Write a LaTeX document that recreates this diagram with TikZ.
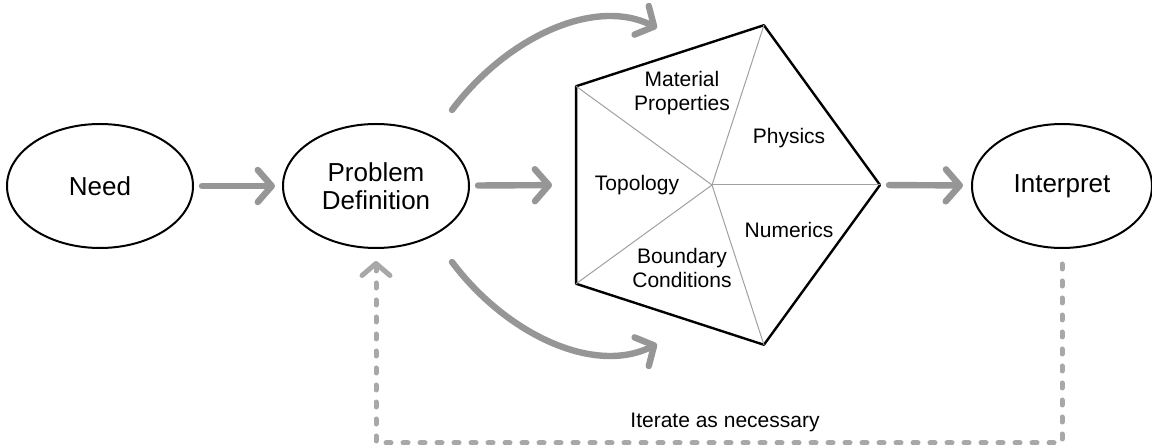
\documentclass[tikz,border=0pt]{standalone}
\usepackage{fontspec}
\setmainfont{Liberation Sans}
\usetikzlibrary{arrows.meta,shapes.geometric}
\definecolor{arrowgray}{RGB}{150,150,150}
\definecolor{dashgray}{RGB}{168,168,168}
\definecolor{spokegray}{RGB}{160,160,160}
\begin{document}
\begin{tikzpicture}[x=0.5pt, y=-0.5pt, line join=round, line cap=round,
		stage/.style={ellipse, draw, line width=1pt, minimum width=93pt, minimum height=62pt, inner sep=0pt, outer sep=0pt, align=center, font=\fontsize{13}{14}\selectfont},
		flow/.style={draw=arrowgray, line width=3.2pt, -{Straight Barb[length=7pt, width=16pt, round]}},
		iterate/.style={draw=dashgray, line width=2.5pt, dash pattern=on 2.5pt off 6pt, -{Straight Barb[length=6pt, width=14pt, round]}},
		part/.style={align=center, font=\fontsize{10.5}{12}\selectfont},
		pentbox/.style={regular polygon, regular polygon sides=5, shape border rotate=270, minimum size=168pt, draw, line width=1.2pt, inner sep=0pt, outer sep=0pt}]
			\useasboundingbox (0,0) rectangle (1152,448);
			\node[stage] (need) at (100,186) {Need};
			\node[stage] (probdef) at (376,186) {Problem\\Definition};
			\node[stage, minimum width=90pt] (interp) at (1062,186) {Interpret};
			\node[pentbox] (pent) at (712,185) {};
			\foreach \i in {1,...,5} {
				\draw[spokegray, line width=0.5pt] (pent.center) -- (pent.corner \i);	}
			\node[part] (matl) at (682,93) {Material\\Properties};
			\node[part] (phys) at (789,138) {Physics};
			\node[part] (topo) at (637,185) {Topology};
			\node[part] (numer) at (789,230) {Numerics};
			\node[part] (bound) at (682,268) {Boundary\\Conditions};
			\draw[flow, shorten <=4.5pt, shorten >=4pt] (need) -- (probdef);
			\draw[flow, shorten <=4.5pt, shorten >=12pt] (probdef) -- (pent.west);
			\draw[flow, shorten <=4.5pt, shorten >=4.5pt] (pent.east) -- (interp);
			\coordinate (topS) at (452,110);
			\coordinate (topE) at (657,28);
			\coordinate (botS) at (452,262);
			\coordinate (botE) at (657,344);
			\draw[flow] (topS) .. controls (506,38) and (594,-3.5) .. (topE);
			\draw[flow] (botS) .. controls (506,334) and (594,375.5) .. (botE);
			\coordinate (loopR) at (1062,443);
			\coordinate (loopL) at (376,443);
			\draw[iterate] ([yshift=-8pt]interp.south) -- (loopR) -- (loopL) -- ([yshift=-6.5pt]probdef.south);
			\node[font=\fontsize{10.5}{12}\selectfont] (iter) at (725,422) {Iterate as necessary};
		\end{tikzpicture}
\end{document}
